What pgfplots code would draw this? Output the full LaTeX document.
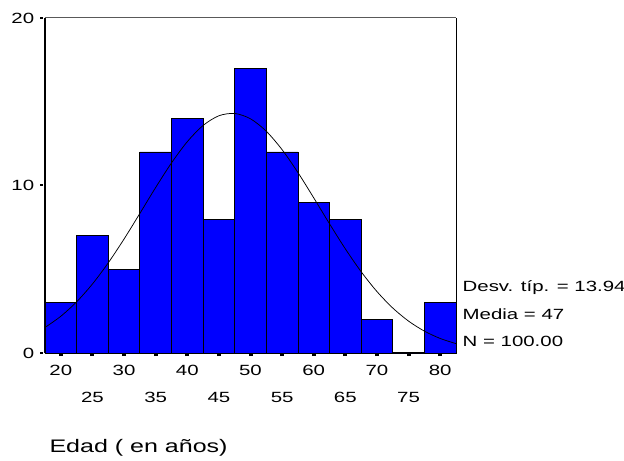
\documentclass[border=0pt]{standalone}
\usepackage{fontspec}
\setmainfont{Liberation Sans}[FakeStretch=1.38]
\usepackage{pgfplots}
\pgfplotsset{compat=1.18}

\definecolor{barblue}{RGB}{0,0,255}
\newcommand{\lbl}{\fontsize{11.1}{13}\selectfont}

\begin{document}
\begin{tikzpicture}
% page frame: 624 x 460 px at 0.75pt per px
\useasboundingbox (-33.75pt,-80.25pt) rectangle (434.25pt,264.75pt);
\begin{axis}[
    scale only axis,
    width=308.25pt, height=251.25pt,
    xmin=17.5, xmax=82.5, ymin=0, ymax=20,
    enlargelimits=false,
    axis lines*=left,
    axis line style={-, line width=1.1pt, black},
    xtick={20,30,...,80},
    extra x ticks={25,35,...,75},
    extra x tick style={xticklabel style={yshift=-20.25pt}},
    ytick={0,10,20},
    tick align=outside,
    major tick length=3.4pt,
    xtick style={black, line width=3pt, dash pattern=on 0pt off 1.1pt on 1.5pt off 0.8pt},
    ytick style={black, line width=1.5pt, dash pattern=on 2.2pt off 1.2pt},
    /pgf/number format/assume math mode=true,
    xticklabel style={font=\lbl, anchor=base, inner sep=0pt, yshift=-13.6pt},
    yticklabel style={font=\lbl, anchor=east, inner sep=0pt, xshift=-4.5pt},
    clip=false,
]
\addplot[ybar interval, fill=barblue, draw=black, line width=0.6pt] coordinates {
    (17.5,3) (22.5,7) (27.5,5) (32.5,12) (37.5,14) (42.5,8) (47.5,17)
    (52.5,12) (57.5,9) (62.5,8) (67.5,2) (72.5,0) (77.5,3) (82.5,3)
};
\addplot[black, line width=0.55pt, smooth, no markers] coordinates {
    (17.5,1.5247) (20,2.1929) (22.5,3.0542) (25,4.1189) (27.5,5.3791)
    (30,6.8027) (32.5,8.3306) (35,9.8789) (37.5,11.3441) (40,12.6142)
    (42.5,13.5828) (45,14.1628) (47.5,14.3000) (50,13.9818) (52.5,13.2378)
    (55,12.1367) (57.5,10.7751) (60,9.2634) (62.5,7.7118) (65,6.2168)
    (67.5,4.8530) (70,3.6685) (72.5,2.6854) (75,1.9035) (77.5,1.3065)
    (80,0.8684) (82.5,0.5590)
};
\draw[black!65, line width=0.75pt] (rel axis cs:0,1) -- (rel axis cs:1,1);
\draw[black, line width=0.75pt] (rel axis cs:1,1) -- (rel axis cs:1,0);
\node[font=\lbl, anchor=base west, inner sep=0pt, xshift=4.8pt, yshift=46.2pt]
    at (rel axis cs:1,0) {Desv. típ. = 13.94};
\node[font=\lbl, anchor=base west, inner sep=0pt, xshift=4.8pt, yshift=24.8pt]
    at (rel axis cs:1,0) {Media = 47};
\node[font=\lbl, anchor=base west, inner sep=0pt, xshift=4.8pt, yshift=4.7pt]
    at (rel axis cs:1,0) {N = 100.00};
\node[font=\fontsize{13.6}{16}\selectfont, anchor=base west, inner sep=0pt, xshift=3.2pt, yshift=-74.5pt]
    at (rel axis cs:0,0) {Edad ( en años)};
\end{axis}
\end{tikzpicture}
\end{document}
